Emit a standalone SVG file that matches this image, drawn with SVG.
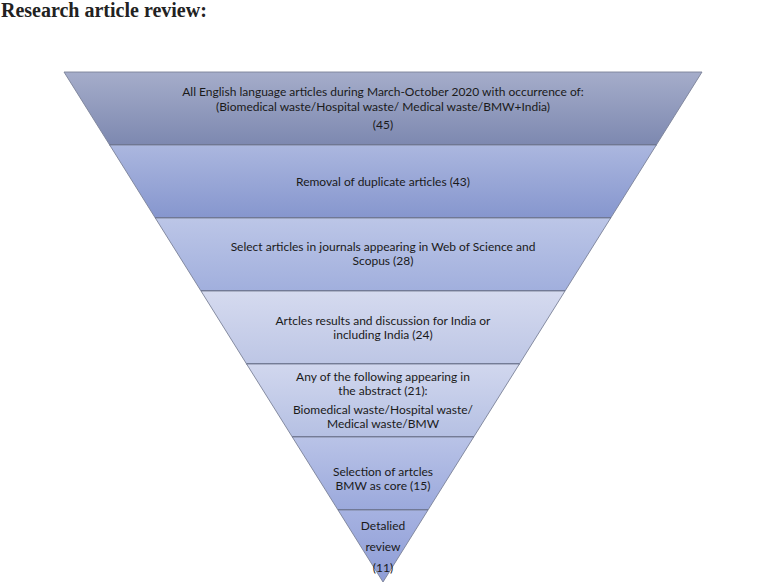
<svg xmlns="http://www.w3.org/2000/svg" width="759" height="585" viewBox="0 0 759 585">
<defs>
<linearGradient id="g1" x1="0" y1="0" x2="0" y2="1"><stop offset="0" stop-color="#a5adca"/><stop offset="1" stop-color="#7d88b0"/></linearGradient>
<linearGradient id="g2" x1="0" y1="0" x2="0" y2="1"><stop offset="0" stop-color="#abb7df"/><stop offset="1" stop-color="#8696ce"/></linearGradient>
<linearGradient id="g3" x1="0" y1="0" x2="0" y2="1"><stop offset="0" stop-color="#bcc6e7"/><stop offset="1" stop-color="#a1afdd"/></linearGradient>
<linearGradient id="g4" x1="0" y1="0" x2="0" y2="1"><stop offset="0" stop-color="#d5daef"/><stop offset="1" stop-color="#bdc6e5"/></linearGradient>
<linearGradient id="g5" x1="0" y1="0" x2="0" y2="1"><stop offset="0" stop-color="#d1d7ee"/><stop offset="1" stop-color="#b5c0e3"/></linearGradient>
<linearGradient id="g6" x1="0" y1="0" x2="0" y2="1"><stop offset="0" stop-color="#b9c3e7"/><stop offset="1" stop-color="#9ba9dc"/></linearGradient>
<linearGradient id="g7" x1="0" y1="0" x2="0" y2="1"><stop offset="0" stop-color="#a6b2e1"/><stop offset="1" stop-color="#8e9dd6"/></linearGradient>
</defs>
<style>
.band{stroke:#7b8197;stroke-width:0.9;}
.sep{stroke:#5f6786;stroke-width:1.3;}
.t{font-family:Lato,"Liberation Sans",sans-serif;font-size:12px;fill:#1a1a1a;text-anchor:middle;}
.title{font-family:"Liberation Serif","Times New Roman",serif;font-size:20px;font-weight:bold;fill:#222;}
</style>
<text class="title" x="1" y="17">Research article review:</text>
<g id="band1">
<polygon class="band" fill="url(#g1)" points="64,72 702,72 656.3,145 109.7,145"/>
<line class="sep" x1="109.7" y1="145" x2="656.3" y2="145"/>
<text class="t" x="383" y="96">All English language articles during March-October 2020 with occurrence of:</text>
<text class="t" x="383" y="111">(Biomedical waste/Hospital waste/ Medical waste/BMW+India)</text>
<text class="t" x="383" y="129">(45)</text>
</g>
<g id="band2">
<polygon class="band" fill="url(#g2)" points="109.7,145 656.3,145 610.7,218 155.3,218"/>
<line class="sep" x1="155.3" y1="218" x2="610.7" y2="218"/>
<text class="t" x="383" y="186">Removal of duplicate articles (43)</text>
</g>
<g id="band3">
<polygon class="band" fill="url(#g3)" points="155.3,218 610.7,218 565,291 201,291"/>
<line class="sep" x1="201" y1="291" x2="565" y2="291"/>
<text class="t" x="383" y="251">Select articles in journals appearing in Web of Science and</text>
<text class="t" x="383" y="265">Scopus (28)</text>
</g>
<g id="band4">
<polygon class="band" fill="url(#g4)" points="201,291 565,291 519.4,364 246.6,364"/>
<line class="sep" x1="246.6" y1="364" x2="519.4" y2="364"/>
<text class="t" x="383" y="325">Artcles results and discussion for India or</text>
<text class="t" x="383" y="339">including India (24)</text>
</g>
<g id="band5">
<polygon class="band" fill="url(#g5)" points="246.6,364 519.4,364 473.7,437 292.3,437"/>
<line class="sep" x1="292.3" y1="437" x2="473.7" y2="437"/>
<text class="t" x="383" y="381">Any of the following appearing in</text>
<text class="t" x="383" y="395">the abstract (21):</text>
<text class="t" x="383" y="414">Biomedical waste/Hospital waste/</text>
<text class="t" x="383" y="428">Medical waste/BMW</text>
</g>
<g id="band6">
<polygon class="band" fill="url(#g6)" points="292.3,437 473.7,437 428,510 338,510"/>
<line class="sep" x1="338" y1="510" x2="428" y2="510"/>
<text class="t" x="383" y="476">Selection of artcles</text>
<text class="t" x="383" y="490">BMW as core (15)</text>
</g>
<g id="band7">
<polygon class="band" fill="url(#g7)" points="338,510 428,510 383,582"/>
<text class="t" x="383" y="530">Detalied</text>
<text class="t" x="383" y="551">review</text>
<text class="t" x="383" y="572">(11)</text>
</g>
</svg>
